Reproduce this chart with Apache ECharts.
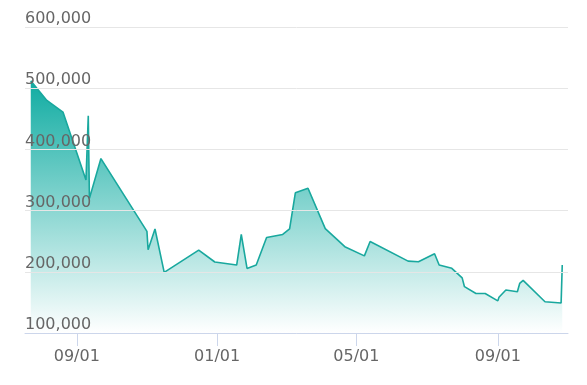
<!DOCTYPE html>
<html>
<head>
<meta charset="utf-8">
<script src="https://cdn.jsdelivr.net/npm/echarts@6/dist/echarts.min.js"></script>
<style>
html,body{margin:0;padding:0;background:#fff;}
#chart{width:587px;height:385px;}
</style>
</head>
<body>
<div id="chart"></div>
<script>
// Data
var dates = [
  '2023-07-23','2023-08-06','2023-08-20','2023-09-09','2023-09-11','2023-09-12','2023-09-22',
  '2023-11-01','2023-11-02','2023-11-08','2023-11-16','2023-12-16','2023-12-30',
  '2024-01-18','2024-01-22','2024-01-27','2024-02-04','2024-02-13','2024-02-27','2024-03-04',
  '2024-03-09','2024-03-20','2024-04-04','2024-04-21','2024-04-22','2024-05-08','2024-05-13',
  '2024-06-15','2024-06-24','2024-07-08','2024-07-12','2024-07-23','2024-08-01','2024-08-03',
  '2024-08-13','2024-08-21','2024-09-01','2024-09-02','2024-09-08','2024-09-18','2024-09-20',
  '2024-09-23','2024-10-12','2024-10-26','2024-10-27'
];
var prices = [
  512000,480000,461000,350000,455000,320000,385000,
  266000,236000,270000,199000,235500,216000,
  211000,261000,205500,211000,256000,261000,270000,
  329000,336500,270500,241000,238000,226000,249500,
  217500,216500,229500,211000,205700,190000,175700,
  164500,164500,152500,158500,170300,167500,181000,
  186000,151000,149000,211000
];
var tickDates = ['2023-09-01','2024-01-01','2024-05-01','2024-09-01'];
var yTicks = [100000,200000,300000,400000,500000,600000];
var axisStart = '2023-07-18';
var axisEnd = '2024-11-01';

function ts(s){var p=s.split('-');return Date.UTC(+p[0],+p[1]-1,+p[2]);}
function pad(n){return (n<10?'0':'')+n;}

var seriesData = dates.map(function(d,i){return [ts(d), prices[i]];});
var tickVals = tickDates.map(ts);

var chart = echarts.init(document.getElementById('chart'), null, {renderer:'canvas'});
chart.setOption({
  animation:false,
  backgroundColor:'#ffffff',
  grid:{left:25,right:19,top:27,bottom:52,containLabel:false},
  xAxis:{
    type:'value',
    min:ts(axisStart),
    max:ts(axisEnd),
    z:10,
    axisLine:{show:true,lineStyle:{color:'#ccd6eb',width:1}},
    axisTick:{show:true,customValues:tickVals,length:13,lineStyle:{color:'#ccd6eb'}},
    axisLabel:{
      customValues:tickVals,
      margin:16,
      fontFamily:'DejaVu Sans',
      fontSize:16,
      color:'#666666',
      formatter:function(v){var d=new Date(v);return pad(d.getUTCMonth()+1)+'/'+pad(d.getUTCDate());}
    },
    splitLine:{show:false}
  },
  yAxis:{
    type:'value',
    min:yTicks[0],
    max:yTicks[yTicks.length-1],
    interval:100000,
    z:10,
    axisLine:{show:false},
    axisTick:{show:false},
    axisLabel:{
      inside:true,
      margin:0,
      verticalAlign:'bottom',
      fontFamily:'DejaVu Sans',
      fontSize:16,
      color:'#666666',
      showMinLabel:true,
      showMaxLabel:true,
      formatter:function(v){return v.toString().replace(/\B(?=(\d{3})+(?!\d))/g, ',');}
    },
    splitLine:{show:true,lineStyle:{color:'#e6e6e6',width:1}}
  },
  series:[{
    type:'line',
    data:seriesData,
    showSymbol:false,
    symbol:'none',
    lineStyle:{color:'#19a89e',width:1.6},
    areaStyle:{
      opacity:1,
      color:new echarts.graphic.LinearGradient(0,0,0,1,[
        {offset:0,color:'rgba(16,172,162,1)'},
        {offset:1,color:'rgba(255,255,255,1)'}
      ])
    },
    z:3
  }]
});
</script>
</body>
</html>
